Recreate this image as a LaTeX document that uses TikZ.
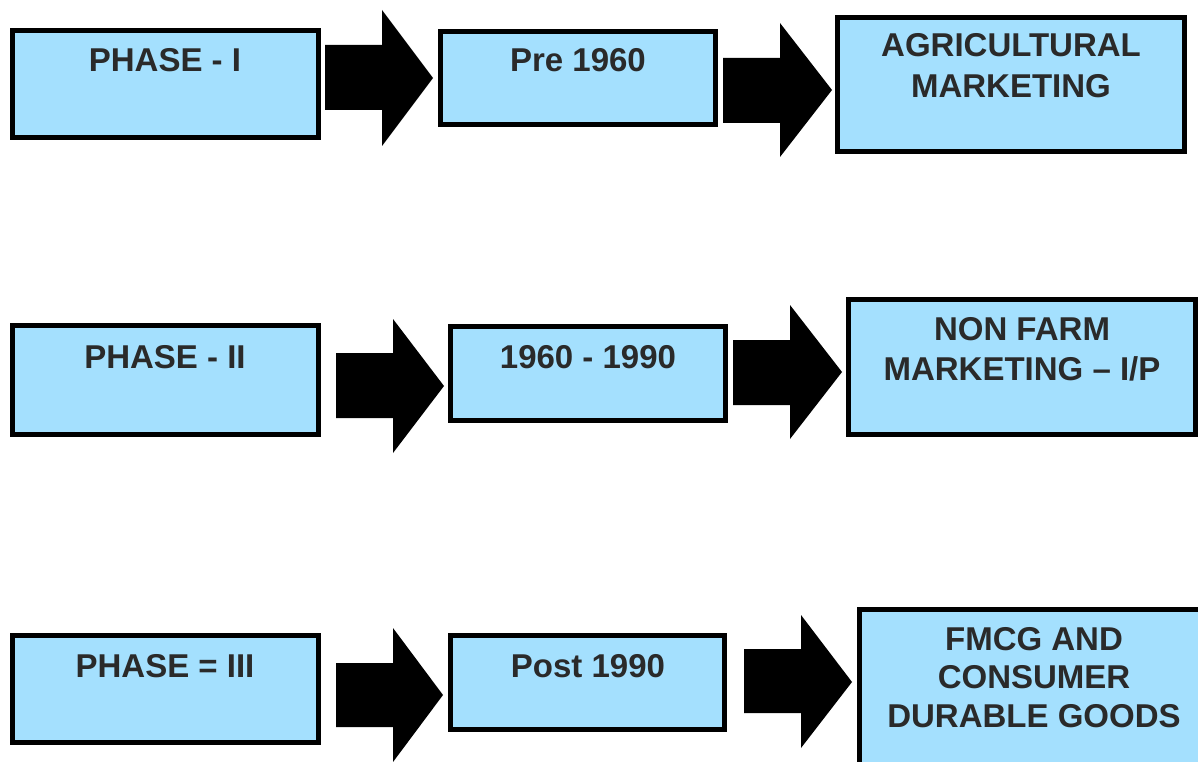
\documentclass[tikz,border=0pt]{standalone}
\usepackage{fontspec}
\setmainfont{Liberation Sans}
\definecolor{boxfill}{HTML}{A4E0FE}
\definecolor{txtcol}{HTML}{2A2A2A}
\begin{document}
\begin{tikzpicture}[x=1pt,y=-1pt,
  box/.style={draw=black,line width=5pt,fill=boxfill,inner sep=0pt},
  lbl/.style={anchor=base,inner sep=0pt,align=center,text=txtcol,
    font=\fontsize{33}{40}\selectfont\bfseries},
  lbltwo/.style={lbl,font=\fontsize{33}{41}\selectfont\bfseries},
  lblthree/.style={lbl,font=\fontsize{33}{38.5}\selectfont\bfseries},
  barrow/.style={fill=black}]
\useasboundingbox (0,0) rectangle (1198,762);
\clip (0,0) rectangle (1198,762);
% Row 1
\node[box,minimum width=306pt,minimum height=107pt] (a1) at (165.5,84) {};
\node[box,minimum width=275pt,minimum height=93pt] (b1) at (578,78) {};
\node[box,minimum width=347pt,minimum height=134pt] (c1) at (1011,84.5) {};
\node[lbl] (a1t) at (165,72) {PHASE - I};
\node[lbl] (b1t) at (578,72) {Pre 1960};
\node[lbltwo] (c1t) at (1011,98) {AGRICULTURAL\\MARKETING};
% Row 2
\node[box,minimum width=306pt,minimum height=109pt] (a2) at (165.5,380) {};
\node[box,minimum width=275pt,minimum height=94pt] (b2) at (588,373.5) {};
\node[box,minimum width=347pt,minimum height=135pt] (c2) at (1022,367) {};
\node[lbl] (a2t) at (165,368) {PHASE - II};
\node[lbl] (b2t) at (588,368) {1960 - 1990};
\node[lbl] (c2t) at (1022,380) {NON FARM\\MARKETING – I/P};
% Row 3
\node[box,minimum width=306pt,minimum height=107pt] (a3) at (165.5,689) {};
\node[box,minimum width=274pt,minimum height=94pt] (b3) at (587.5,682.5) {};
\node[box,minimum width=347pt,minimum height=163pt] (c3) at (1033,691) {};
\node[lbl] (a3t) at (165,677) {PHASE = III};
\node[lbl] (b3t) at (588,677) {Post 1990};
\node[lblthree] (c3t) at (1034,727) {FMCG AND\\CONSUMER\\DURABLE GOODS};
% Block arrows
\fill[barrow] (325,45) -- (382,45) -- (382,10) -- (433,78) -- (382,146) -- (382,110) -- (325,110) -- cycle;
\fill[barrow] (723,58) -- (780,58) -- (780,23) -- (832,90) -- (780,157) -- (780,123) -- (723,123) -- cycle;
\fill[barrow] (336,353) -- (393,353) -- (393,319) -- (444,386) -- (393,453) -- (393,418) -- (336,418) -- cycle;
\fill[barrow] (733,340) -- (790,340) -- (790,305) -- (842,372) -- (790,439) -- (790,405) -- (733,405) -- cycle;
\fill[barrow] (336,663) -- (393,663) -- (393,628) -- (443,695) -- (393,762) -- (393,727) -- (336,727) -- cycle;
\fill[barrow] (744,649) -- (801,649) -- (801,615) -- (852,682) -- (801,748) -- (801,713) -- (744,713) -- cycle;
\end{tikzpicture}
\end{document}
